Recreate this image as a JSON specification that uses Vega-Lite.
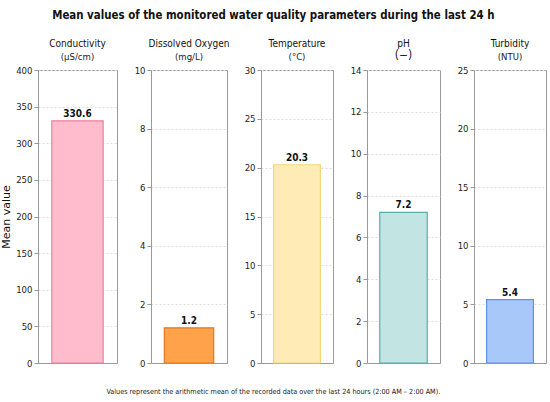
{
  "$schema": "https://vega.github.io/schema/vega-lite/v6.json",
  "background": "white",
  "padding": {"left": 0, "top": 9, "right": 2, "bottom": 6},
  "data": {"values": [
    {"param": "Conductivity", "value": 330.6},
    {"param": "Dissolved Oxygen", "value": 1.2},
    {"param": "Temperature", "value": 20.3},
    {"param": "pH", "value": 7.2},
    {"param": "Turbidity", "value": 5.4}
  ]},
  "title": {"text": "Values represent the arithmetic mean of the recorded data over the last 24 hours (2:00 AM – 2:00 AM).", "orient": "bottom", "anchor": "middle", "fontSize": 7.2, "fontWeight": "normal", "color": "#222", "offset": 20},
  "vconcat": [{
    "title": {"text": "Mean values of the monitored water quality parameters during the last 24 h", "anchor": "middle", "fontSize": 11.4, "fontWeight": "bold", "color": "#111", "offset": 17},
    "spacing": 34,
    "bounds": "flush",
    "hconcat": [
      {
        "title": {"text": "Conductivity", "subtitle": "(µS/cm)"},
        "width": 79, "height": 293,
        "transform": [{"filter": "datum.param == 'Conductivity'"}],
        "encoding": {
          "x": {"field": "param", "type": "nominal", "axis": {"labels": false, "ticks": false, "title": null}},
          "y": {"field": "value", "type": "quantitative", "scale": {"domain": [0, 400], "nice": false}, "axis": {"values": [0, 50, 100, 150, 200, 250, 300, 350, 400], "title": "Mean value"}}
        },
        "layer": [
          {"mark": {"type": "bar", "width": {"band": 0.65}, "strokeWidth": 1.2},
           "encoding": {
             "color": {"field": "param", "legend": null, "scale": {"domain": ["Conductivity", "Dissolved Oxygen", "Temperature", "pH", "Turbidity"], "range": ["#FFBCCD", "#FFA24A", "#FFEBB5", "#C2E5E4", "#A9C8FA"]}},
             "stroke": {"field": "param", "legend": null, "scale": {"domain": ["Conductivity", "Dissolved Oxygen", "Temperature", "pH", "Turbidity"], "range": ["#EE7FA0", "#E8761C", "#F5D67C", "#55AFAD", "#5C93EA"]}}
           }},
          {"mark": {"type": "text", "dy": -7, "fontSize": 10, "fontWeight": "bold", "color": "#111"},
           "encoding": {"text": {"field": "value", "format": ".1f"}}}
        ]
      },
      {
        "title": {"text": "Dissolved Oxygen", "subtitle": "(mg/L)"},
        "width": 76, "height": 293,
        "transform": [{"filter": "datum.param == 'Dissolved Oxygen'"}],
        "encoding": {
          "x": {"field": "param", "type": "nominal", "axis": {"labels": false, "ticks": false, "title": null}},
          "y": {"field": "value", "type": "quantitative", "scale": {"domain": [0, 10], "nice": false}, "axis": {"values": [0, 2, 4, 6, 8, 10], "title": null}}
        },
        "layer": [
          {"mark": {"type": "bar", "width": {"band": 0.65}, "strokeWidth": 1.2},
           "encoding": {
             "color": {"field": "param", "legend": null, "scale": {"domain": ["Conductivity", "Dissolved Oxygen", "Temperature", "pH", "Turbidity"], "range": ["#FFBCCD", "#FFA24A", "#FFEBB5", "#C2E5E4", "#A9C8FA"]}},
             "stroke": {"field": "param", "legend": null, "scale": {"domain": ["Conductivity", "Dissolved Oxygen", "Temperature", "pH", "Turbidity"], "range": ["#EE7FA0", "#E8761C", "#F5D67C", "#55AFAD", "#5C93EA"]}}
           }},
          {"mark": {"type": "text", "dy": -7, "fontSize": 10, "fontWeight": "bold", "color": "#111"},
           "encoding": {"text": {"field": "value", "format": ".1f"}}}
        ]
      },
      {
        "title": {"text": "Temperature", "subtitle": "(°C)"},
        "width": 72, "height": 293,
        "transform": [{"filter": "datum.param == 'Temperature'"}],
        "encoding": {
          "x": {"field": "param", "type": "nominal", "axis": {"labels": false, "ticks": false, "title": null}},
          "y": {"field": "value", "type": "quantitative", "scale": {"domain": [0, 30], "nice": false}, "axis": {"values": [0, 5, 10, 15, 20, 25, 30], "title": null}}
        },
        "layer": [
          {"mark": {"type": "bar", "width": {"band": 0.65}, "strokeWidth": 1.2},
           "encoding": {
             "color": {"field": "param", "legend": null, "scale": {"domain": ["Conductivity", "Dissolved Oxygen", "Temperature", "pH", "Turbidity"], "range": ["#FFBCCD", "#FFA24A", "#FFEBB5", "#C2E5E4", "#A9C8FA"]}},
             "stroke": {"field": "param", "legend": null, "scale": {"domain": ["Conductivity", "Dissolved Oxygen", "Temperature", "pH", "Turbidity"], "range": ["#EE7FA0", "#E8761C", "#F5D67C", "#55AFAD", "#5C93EA"]}}
           }},
          {"mark": {"type": "text", "dy": -7, "fontSize": 10, "fontWeight": "bold", "color": "#111"},
           "encoding": {"text": {"field": "value", "format": ".1f"}}}
        ]
      },
      {
        "title": {"text": "pH", "subtitle": "(−)", "subtitleFontSize": 12, "subtitlePadding": 1},
        "width": 73, "height": 293,
        "transform": [{"filter": "datum.param == 'pH'"}],
        "encoding": {
          "x": {"field": "param", "type": "nominal", "axis": {"labels": false, "ticks": false, "title": null}},
          "y": {"field": "value", "type": "quantitative", "scale": {"domain": [0, 14], "nice": false}, "axis": {"values": [0, 2, 4, 6, 8, 10, 12, 14], "title": null}}
        },
        "layer": [
          {"mark": {"type": "bar", "width": {"band": 0.65}, "strokeWidth": 1.2},
           "encoding": {
             "color": {"field": "param", "legend": null, "scale": {"domain": ["Conductivity", "Dissolved Oxygen", "Temperature", "pH", "Turbidity"], "range": ["#FFBCCD", "#FFA24A", "#FFEBB5", "#C2E5E4", "#A9C8FA"]}},
             "stroke": {"field": "param", "legend": null, "scale": {"domain": ["Conductivity", "Dissolved Oxygen", "Temperature", "pH", "Turbidity"], "range": ["#EE7FA0", "#E8761C", "#F5D67C", "#55AFAD", "#5C93EA"]}}
           }},
          {"mark": {"type": "text", "dy": -7, "fontSize": 10, "fontWeight": "bold", "color": "#111"},
           "encoding": {"text": {"field": "value", "format": ".1f"}}}
        ]
      },
      {
        "title": {"text": "Turbidity", "subtitle": "(NTU)"},
        "width": 72, "height": 293,
        "transform": [{"filter": "datum.param == 'Turbidity'"}],
        "encoding": {
          "x": {"field": "param", "type": "nominal", "axis": {"labels": false, "ticks": false, "title": null}},
          "y": {"field": "value", "type": "quantitative", "scale": {"domain": [0, 25], "nice": false}, "axis": {"values": [0, 5, 10, 15, 20, 25], "title": null}}
        },
        "layer": [
          {"mark": {"type": "bar", "width": {"band": 0.65}, "strokeWidth": 1.2},
           "encoding": {
             "color": {"field": "param", "legend": null, "scale": {"domain": ["Conductivity", "Dissolved Oxygen", "Temperature", "pH", "Turbidity"], "range": ["#FFBCCD", "#FFA24A", "#FFEBB5", "#C2E5E4", "#A9C8FA"]}},
             "stroke": {"field": "param", "legend": null, "scale": {"domain": ["Conductivity", "Dissolved Oxygen", "Temperature", "pH", "Turbidity"], "range": ["#EE7FA0", "#E8761C", "#F5D67C", "#55AFAD", "#5C93EA"]}}
           }},
          {"mark": {"type": "text", "dy": -7, "fontSize": 10, "fontWeight": "bold", "color": "#111"},
           "encoding": {"text": {"field": "value", "format": ".1f"}}}
        ]
      }
    ]
  }],
  "config": {
    "font": "DejaVu Sans Condensed",
    "view": {"stroke": "#999", "strokeWidth": 1},
    "scale": {
      "bandPaddingInner": 0,
      "bandPaddingOuter": 0
    },
    "title": {"fontSize": 10, "fontWeight": 500, "color": "#111", "subtitleFontSize": 9.5, "subtitleColor": "#222", "subtitlePadding": 3, "offset": 4},
    "axis": {
      "domainColor": "#999",
      "tickColor": "#999",
      "tickSize": 4,
      "labelFontSize": 9.5,
      "labelColor": "#222",
      "labelPadding": 2,
      "titleFontSize": 11,
      "titleFontWeight": "normal",
      "titleColor": "#111",
      "titleFont": "DejaVu Sans",
      "titlePadding": 4,
      "gridColor": "#ddd",
      "gridDash": [2, 2]
    },
    "axisX": {"grid": false}
  }
}
